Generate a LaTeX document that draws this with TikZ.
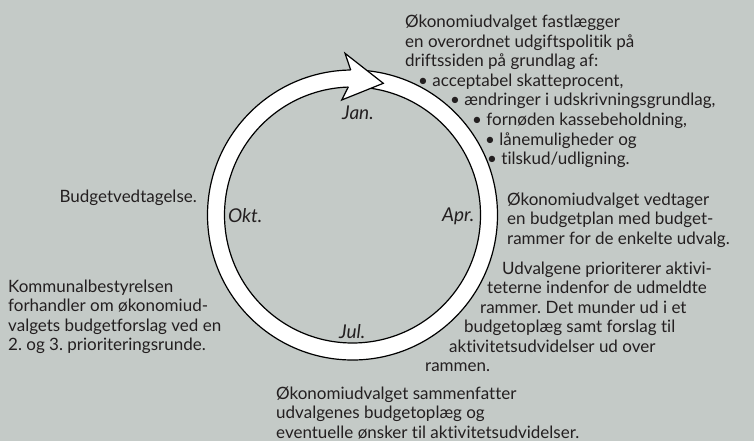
\documentclass[tikz,border=0pt]{standalone}
\usepackage{fontspec}
\setmainfont{Lato}[Ligatures=CommonOff]
\definecolor{bg}{HTML}{C4CAC7}
\definecolor{ink}{HTML}{231F20}
\begin{document}
\frenchspacing
\begin{tikzpicture}[x=1pt,y=-1pt,
  txt/.style={anchor=base west,inner sep=0pt,text=ink,font=\fontsize{17}{19.5}\selectfont},
  txtr/.style={txt,anchor=base east},
  month/.style={txt,font=\fontsize{19}{21}\selectfont\itshape},
  ringline/.style={draw=black,line width=1.2pt}]
% background and page size
\fill[bg] (0,0) rectangle (754,441);
\useasboundingbox (0,0) rectangle (754,441);

% the yearly cycle: a white ring with an arrowhead at the top
\coordinate (c) at (352.5,215);
\fill[white,even odd rule] (c) circle[radius=145pt] (c) circle[radius=128pt];
\draw[ringline] (c) circle[radius=145pt];
\draw[ringline] (c) circle[radius=128pt];
\coordinate (notchout) at (350.7,70);
\coordinate (barbup) at (345,53.3);
\coordinate (tip) at (383.3,83.3);
\coordinate (barblow) at (341.7,100);
\coordinate (notchin) at (348.3,87);
\fill[white] (notchout) -- (barbup) -- (tip) -- (barblow) -- (notchin) -- cycle;
\draw[ringline,line join=miter] (notchout) -- (barbup) -- (tip) -- (barblow) -- (notchin);

% months
\node[month] (jan) at (342,120) {Jan.};
\node[month] (apr) at (442,221) {Apr.};
\node[month] (jul) at (339,338) {Jul.};
\node[month] (okt) at (228,222) {Okt.};

% January
\node[txt] (ja1) at (405,28) {Økonomiudvalget fastlægger};
\node[txt] (ja2) at (405,47.5) {en overordnet udgiftspolitik på};
\node[txt] (ja3) at (405,67) {driftssiden på grundlag af:};
\node[txt] (ja4) at (418,86.5) {\textbullet\ acceptabel skatteprocent,};
\node[txt] (ja5) at (450,106) {\textbullet\ ændringer i udskrivningsgrundlag,};
\node[txt] (ja6) at (472,125.5) {\textbullet\ fornøden kassebeholdning,};
\node[txt] (ja7) at (485,145) {\textbullet\ lånemuligheder og};
\node[txt] (ja8) at (487,164.5) {\textbullet\ tilskud/udligning.};

% April
\node[txt] (ap1) at (507,205) {Økonomiudvalget vedtager};
\node[txt] (ap2) at (507,224.5) {en budgetplan med budget-};
\node[txt] (ap3) at (507,244) {rammer for de enkelte udvalg.};

% May - June
\node[txt] (ma1) at (502,274) {Udvalgene prioriterer aktivi-};
\node[txt] (ma2) at (487,293.5) {teterne indenfor de udmeldte};
\node[txt] (ma3) at (480,313) {rammer. Det munder ud i et};
\node[txt] (ma4) at (464,332.5) {budgetoplæg samt forslag til};
\node[txt] (ma5) at (449,352) {aktivitetsudvidelser ud over};
\node[txt] (ma6) at (425,371.5) {rammen.};

% July
\node[txt] (ju1) at (276,399) {Økonomiudvalget sammenfatter};
\node[txt] (ju2) at (276,418.5) {udvalgenes budgetoplæg og};
\node[txt] (ju3) at (276,438) {eventuelle ønsker til aktivitetsudvidelser.};

% September - October
\node[txt] (se1) at (8,292) {Kommunalbestyrelsen};
\node[txt] (se2) at (8,311.5) {forhandler om økonomiud-};
\node[txt] (se3) at (8,331) {valgets budgetforslag ved en};
\node[txt] (se4) at (8,350.5) {2. og 3. prioriteringsrunde.};
\node[txtr] (ok1) at (197,202) {Budgetvedtagelse.};
\end{tikzpicture}
\end{document}
